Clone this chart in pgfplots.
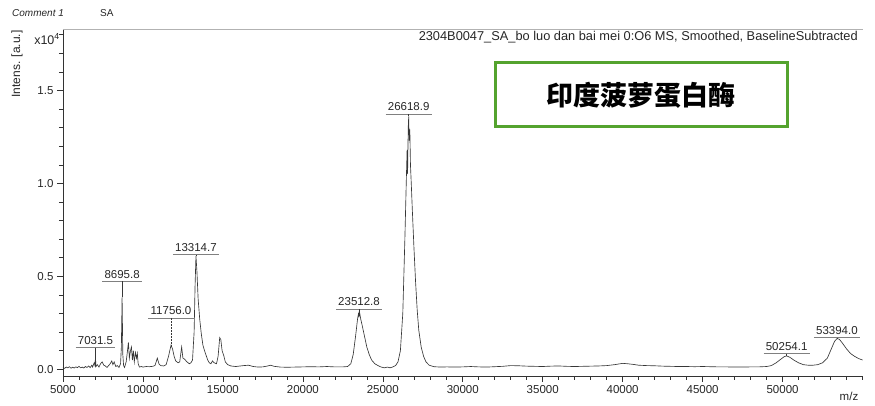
\documentclass[border=0pt]{standalone}
\usepackage{pgfplots}
\pgfplotsset{compat=1.18}
\usepackage{fontspec}
\setmainfont{Liberation Sans}
\newfontfamily\cjk{Noto Sans CJK SC}
\definecolor{boxgreen}{RGB}{84,163,46}
\definecolor{specline}{RGB}{55,55,55}

% peak label: number above an underline, line down to the apex
\newcommand{\peaklabel}[5][solid]{%
  \node[anchor=south, inner xsep=2pt, inner ysep=3pt, text=black!85,
        font=\fontsize{11.5}{13}\selectfont] (pl) at (axis cs:#2,#3) {#5};
  \draw[gray, line width=0.6pt] (pl.south west) -- (pl.south east);
  \draw[specline, line width=0.5pt, #1] (axis cs:#2,#3) -- (axis cs:#2,#4);
}

\begin{document}
\begin{tikzpicture}
\path[use as bounding box] (-63pt,-30pt) rectangle (812pt,376pt);
\begin{axis}[
  at={(0,0)}, anchor=south west,
  scale only axis, width=799.5pt, height=346.7pt,
  xmin=5000, xmax=55000, ymin=-0.036, ymax=1.829,
  axis x line*=bottom, axis y line*=left,
  axis line style={black!80, line width=0.8pt, -},
  xtick={5000,10000,15000,20000,25000,30000,35000,40000,45000,50000},
  xticklabels={5000,10000,15000,20000,25000,30000,35000,40000,45000,50000},
  minor xtick={6000,7000,...,55000},
  ytick={0,0.5,1.0,1.5},
  yticklabels={0.0,0.5,1.0,1.5},
  minor ytick={0.1,0.2,...,1.8},
  scaled x ticks=false, scaled y ticks=false,
  tick align=outside,
  major tick length=6pt, minor tick length=4pt,
  tick style={black!80, line width=0.6pt},
  every tick label/.append style={font=\fontsize{11.5}{13}\selectfont, text=black!85},
  /pgf/number format/assume math mode=true,
  clip=false,
]
\draw[gray!60, line width=0.8pt] (rel axis cs:0,1) -- (rel axis cs:1,1);

\addplot[specline, line width=0.65pt, mark=none] coordinates {
(5000,0.010)(5100,0.005)(5200,0.012)(5300,0.008)(5400,0.014)(5500,0.006)
(5600,0.011)(5700,0.007)(5800,0.013)(5900,0.009)(6000,0.016)(6100,0.008)
(6200,0.012)(6300,0.007)(6400,0.015)(6500,0.010)(6600,0.018)(6700,0.009)
(6800,0.022)(6850,0.012)(6950,0.035)(7000,0.020)(7031,0.065)(7060,0.015)
(7150,0.025)(7250,0.012)(7350,0.030)(7450,0.040)(7550,0.022)(7650,0.018)
(7750,0.010)(7850,0.020)(7950,0.030)(8050,0.045)(8120,0.025)(8200,0.040)
(8300,0.015)(8400,0.020)(8500,0.010)(8600,0.030)(8650,0.120)(8696,0.390)
(8740,0.080)(8790,0.020)(8850,0.010)(8950,0.040)(9020,0.090)(9090,0.145)
(9150,0.060)(9220,0.100)(9280,0.120)(9340,0.050)(9400,0.100)(9460,0.040)
(9530,0.090)(9600,0.060)(9650,0.085)(9700,0.030)(9780,0.012)(9900,0.015)
(10000,0.012)(10200,0.015)(10400,0.014)(10600,0.016)(10750,0.020)(10900,0.060)
(11000,0.030)(11100,0.020)(11300,0.018)(11450,0.025)(11600,0.070)(11756,0.130)
(11850,0.110)(11950,0.070)(12050,0.045)(12200,0.035)(12300,0.040)(12420,0.120)
(12500,0.060)(12600,0.055)(12750,0.040)(12900,0.030)(13000,0.035)(13100,0.050)
(13200,0.200)(13260,0.450)(13315,0.610)(13380,0.520)(13450,0.380)(13550,0.270)
(13650,0.190)(13750,0.130)(13850,0.100)(13950,0.075)(14050,0.050)(14150,0.035)
(14250,0.030)(14350,0.045)(14450,0.035)(14600,0.030)(14700,0.070)(14800,0.170)
(14870,0.160)(14950,0.100)(15050,0.075)(15150,0.040)(15300,0.025)(15500,0.018)
(15800,0.015)(16000,0.017)(16300,0.020)(16600,0.022)(16900,0.015)(17200,0.012)
(17500,0.013)(17800,0.018)(18000,0.022)(18200,0.016)(18600,0.012)(19000,0.011)
(19500,0.012)(20000,0.013)(20500,0.014)(21000,0.013)(21500,0.015)(22000,0.013)
(22500,0.013)(22800,0.015)(23000,0.030)(23150,0.080)(23300,0.180)(23420,0.270)
(23480,0.300)(23513,0.285)(23560,0.300)(23620,0.270)(23700,0.240)(23800,0.200)
(23900,0.160)(24000,0.120)(24150,0.080)(24300,0.050)(24500,0.030)(24700,0.020)
(24900,0.012)(25100,0.008)(25300,0.012)(25450,0.008)(25600,0.012)(25800,0.020)
(25950,0.040)(26100,0.100)(26250,0.300)(26380,0.700)(26480,1.050)(26520,1.180)
(26550,1.050)(26590,1.300)(26619,1.360)(26650,1.230)(26690,1.290)(26730,1.100)
(26780,1.000)(26850,0.850)(26950,0.650)(27050,0.470)(27150,0.320)(27250,0.210)
(27400,0.120)(27550,0.070)(27700,0.040)(27900,0.022)(28200,0.014)(28600,0.012)
(29000,0.013)(29500,0.012)(30000,0.013)(30500,0.015)(31000,0.013)(31500,0.012)
(32000,0.014)(32500,0.016)(33000,0.020)(33500,0.019)(34000,0.017)(34500,0.016)
(35000,0.015)(35500,0.017)(36000,0.018)(36500,0.016)(37000,0.015)(37500,0.016)
(38000,0.017)(38500,0.018)(39000,0.020)(39500,0.025)(40000,0.032)(40300,0.030)
(40700,0.026)(41000,0.022)(41500,0.020)(42000,0.019)(42500,0.017)(43000,0.016)
(43500,0.015)(44000,0.015)(44500,0.014)(45000,0.015)(45500,0.014)(46000,0.013)
(46500,0.013)(47000,0.012)(47500,0.012)(48000,0.013)(48500,0.013)(49000,0.015)
(49300,0.020)(49600,0.035)(49900,0.055)(50100,0.068)(50254,0.072)(50450,0.065)
(50700,0.050)(51000,0.035)(51300,0.025)(51600,0.022)(51900,0.022)(52200,0.025)
(52500,0.035)(52800,0.060)(53050,0.110)(53250,0.150)(53400,0.165)(53550,0.162)
(53750,0.140)(54000,0.110)(54250,0.085)(54500,0.070)(54750,0.058)(55000,0.050)
};

\peaklabel{7031.5}{0.117}{0.065}{7031.5}
\peaklabel{8695.8}{0.473}{0.39}{8695.8}
\peaklabel[densely dotted]{11756.0}{0.277}{0.13}{11756.0}
\peaklabel{13314.7}{0.617}{0.61}{13314.7}
\peaklabel{23512.8}{0.323}{0.29}{23512.8}
\peaklabel{26618.9}{1.372}{1.36}{26618.9}
\peaklabel{50254.1}{0.084}{0.072}{50254.1}
\peaklabel{53400.0}{0.171}{0.165}{53394.0}
\end{axis}

% texts around the frame (1pt = 1px of the reference)
\node[anchor=west, inner sep=0pt, font=\fontsize{10}{12}\selectfont\itshape, text=black!85]
  at (-51pt,363pt) {Comment 1};
\node[anchor=west, inner sep=0pt, font=\fontsize{10}{12}\selectfont, text=black!85]
  at (37pt,363pt) {SA};
\node[anchor=east, inner sep=0pt, font=\fontsize{12.8}{14}\selectfont, text=black!85]
  at (795pt,338.5pt) {2304B0047\_SA\_bo luo dan bai mei 0:O6 MS, Smoothed, BaselineSubtracted};
\node[anchor=east, inner sep=0pt, font=\fontsize{12.5}{14}\selectfont, text=black!85]
  at (-3pt,337pt) {x10\textsuperscript{4}};
\node[rotate=90, inner sep=0pt, font=\fontsize{12}{14}\selectfont, text=black!85]
  at (-46pt,312pt) {Intens. [a.u.]};
\node[inner sep=0pt, font=\fontsize{11.5}{13}\selectfont, text=black!85]
  at (786pt,-20pt) {m/z};

\draw[boxgreen, line width=3pt] (432pt,249pt) rectangle (724pt,313pt);
\node[inner sep=0pt, font=\fontsize{27}{30}\selectfont\cjk\bfseries]
  at (578pt,281pt) {印度菠萝蛋白酶};
\end{tikzpicture}
\end{document}
